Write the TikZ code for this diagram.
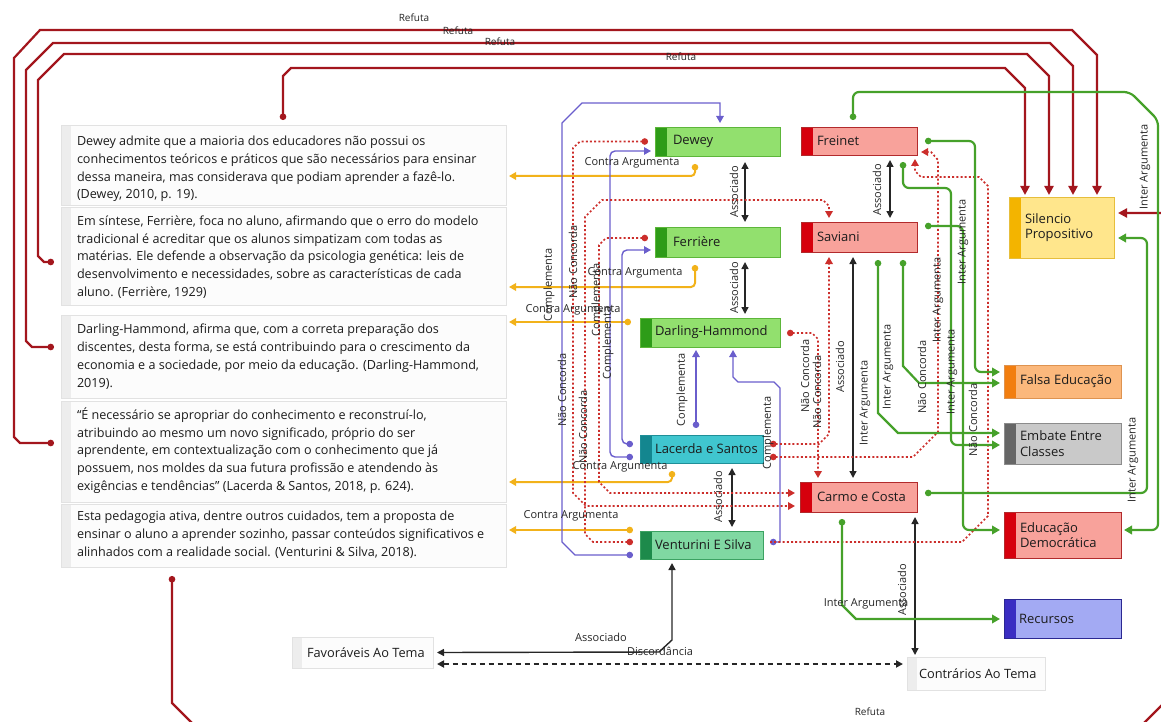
\documentclass[tikz,border=0pt]{standalone}
\usepackage{fontspec}
\setmainfont{Open Sans}
\usetikzlibrary{arrows.meta,calc}
\pgfdeclarelayer{bg}
\pgfsetlayers{bg,main}

% connector colours
\definecolor{refred}{HTML}{A3161D}
\definecolor{lgreen}{HTML}{46A12A}
\definecolor{lblue}{HTML}{6A5ECC}
\definecolor{lorange}{HTML}{F2B21A}
\definecolor{ldot}{HTML}{CC2E2B}
\definecolor{lblack}{HTML}{262626}
\definecolor{txt}{HTML}{1C1C1C}
% box colours
\definecolor{gfill}{HTML}{92E06E}
\definecolor{gstripe}{HTML}{2E9C18}
\definecolor{gdraw}{HTML}{5DB63A}
\definecolor{cfill}{HTML}{40C6CF}
\definecolor{cstripe}{HTML}{13868F}
\definecolor{cdraw}{HTML}{1F8F98}
\definecolor{mfill}{HTML}{80D8A2}
\definecolor{mstripe}{HTML}{1D8A4B}
\definecolor{mdraw}{HTML}{3CA262}
\definecolor{rfill}{HTML}{F8A29B}
\definecolor{rstripe}{HTML}{D6000D}
\definecolor{rdraw}{HTML}{B22A2C}
\definecolor{yfill}{HTML}{FFE68C}
\definecolor{ystripe}{HTML}{F3B400}
\definecolor{ydraw}{HTML}{E6BE3C}
\definecolor{ofill}{HTML}{FBB87C}
\definecolor{ostripe}{HTML}{F27E0F}
\definecolor{odraw}{HTML}{DE9350}
\definecolor{sfill}{HTML}{C9C9C9}
\definecolor{sstripe}{HTML}{666666}
\definecolor{sdraw}{HTML}{8C8C8C}
\definecolor{bfill}{HTML}{A3AAF3}
\definecolor{bstripe}{HTML}{3A2DC2}
\definecolor{bdraw}{HTML}{2B2892}
\definecolor{qfill}{HTML}{FCFCFC}
\definecolor{qstripe}{HTML}{EDEDED}
\definecolor{qdraw}{HTML}{E2E2E2}

\tikzset{
  every node/.style={inner sep=0pt, outer sep=0pt},
  stripe/.style 2 args={path picture={\fill[#1] (path picture bounding box.north west) rectangle ([xshift=#2]path picture bounding box.south west);}},
  cbox/.style n args={3}{rectangle, line width=0.8pt, fill=#1, draw=#3, stripe={#2}{12pt}},
  greenbox/.style={cbox={gfill}{gstripe}{gdraw}},
  cyanbox/.style={cbox={cfill}{cstripe}{cdraw}},
  mintbox/.style={cbox={mfill}{mstripe}{mdraw}},
  redbox/.style={cbox={rfill}{rstripe}{rdraw}},
  yellowbox/.style={cbox={yfill}{ystripe}{ydraw}},
  orangebox/.style={cbox={ofill}{ostripe}{odraw}},
  greybox/.style={cbox={sfill}{sstripe}{sdraw}},
  bluebox/.style={cbox={bfill}{bstripe}{bdraw}},
  qbox/.style={rectangle, line width=0.6pt, fill=qfill, draw=qdraw, stripe={qstripe}{10pt}},
  boxtxt/.style={font=\fontsize{13}{15.5}\selectfont, align=left, text=txt},
  qtxt/.style={font=\fontsize{12.6}{17.8}\selectfont, align=left, text=txt},
  themetxt/.style={font=\fontsize{12.8}{15}\selectfont, text=txt},
  lbl/.style={font=\fontsize{11}{12}\selectfont, text=lblack},
  lblsm/.style={font=\fontsize{10}{11}\selectfont, text=lblack},
  lblv/.style={lbl, rotate=90},
  rref/.style={draw=refred, line width=2.2pt, arrows={Circle[length=6.5pt]-Triangle[length=9pt,width=9pt]}},
  grn/.style={draw=lgreen, line width=2.2pt, arrows={Circle[length=6.5pt]-Triangle[length=8pt,width=8.5pt]}},
  blu/.style={draw=lblue, line width=1.4pt, arrows={Circle[length=6.5pt]-Triangle[length=7pt,width=7.5pt]}},
  orng/.style={draw=lorange, line width=2pt, rounded corners=4pt, arrows={Circle[length=6.5pt]-Triangle[length=7pt,width=7.5pt]}},
  rdt/.style={draw=ldot, line width=1.7pt, dash pattern=on 2pt off 2.2pt, arrows={Circle[length=6.5pt]-Triangle[length=7pt,width=7.5pt]}},
  rdtn/.style={rdt, arrows={-Triangle[length=7pt,width=7.5pt]}},
  blk/.style={draw=lblack, line width=1.4pt, arrows={Triangle[length=7pt,width=7pt]-Triangle[length=7pt,width=7pt]}},
  blkd/.style={blk, line width=1.8pt, dash pattern=on 5pt off 4pt},
}

% concept box: name, x, y, width, height, style, text offset, text
\newcommand{\makeconceptbox}[8]{%
  \node[#6, minimum width=#4pt, minimum height=#5pt, anchor=north west] (#1) at (#2,#3) {};
  \node[boxtxt, anchor=west] (#1-t) at ([xshift=#7pt]#1.west) {#8};%
}
% quotation box: name, y, height, vertical text shift, text
\newcommand{\makequote}[5]{%
  \node[qbox, minimum width=445pt, minimum height=#3pt, anchor=north west] (#1) at (61,#2) {};
  \node[qtxt, anchor=west] (#1-t) at ([xshift=16pt,yshift=#4pt]#1.west) {#5};%
}

\begin{document}
\begin{tikzpicture}[x=1pt,y=-1pt]
\useasboundingbox (0,0) rectangle (1161,722);
\clip (0,0) rectangle (1161,722);

% ---------- quotations ----------
\makequote{q1}{125}{80}{-4}{Dewey admite que a maioria dos educadores não possui os\\
conhecimentos teóricos e práticos que são necessários para ensinar\\
dessa maneira, mas considerava que podiam aprender a fazê-lo.\\
(Dewey, 2010, p. 19).}
\makequote{q2}{207}{98}{-1}{Em síntese, Ferrière, foca no aluno, afirmando que o erro do modelo\\
tradicional é acreditar que os alunos simpatizam com todas as\\
matérias. Ele defende a observação da psicologia genética: leis de\\
desenvolvimento e necessidades, sobre as características de cada\\
aluno. (Ferrière, 1929)}
\makequote{q3}{315}{83}{0}{Darling-Hammond, afirma que, com a correta preparação dos\\
discentes, desta forma, se está contribuindo para o crescimento da\\
economia e a sociedade, por meio da educação. (Darling-Hammond,\\
2019).}
\makequote{q4}{401}{101}{1}{“É necessário se apropriar do conhecimento e reconstruí-lo,\\
atribuindo ao mesmo um novo significado, próprio do ser\\
aprendente, em contextualização com o conhecimento que já\\
possuem, nos moldes da sua futura profissão e atendendo às\\
exigências e tendências” (Lacerda \& Santos, 2018, p. 624).}
\makequote{q5}{504}{63}{1}{Esta pedagogia ativa, dentre outros cuidados, tem a proposta de\\
ensinar o aluno a aprender sozinho, passar conteúdos significativos e\\
alinhados com a realidade social. (Venturini \& Silva, 2018).}

% ---------- authors and themes ----------
\makeconceptbox{dewey}{655}{127}{125}{29}{greenbox}{18}{Dewey}
\makeconceptbox{ferriere}{655}{227}{125}{30}{greenbox}{18}{Ferrière}
\makeconceptbox{darling}{640}{318}{140}{29}{greenbox}{15}{Darling-Hammond}
\makeconceptbox{lacerda}{640}{435}{123}{28}{cyanbox}{15}{Lacerda e Santos}
\makeconceptbox{venturini}{640}{531}{123}{28}{mintbox}{15}{Venturini E Silva}
\makeconceptbox{freinet}{801}{127}{116}{28}{redbox}{16}{Freinet}
\makeconceptbox{saviani}{801}{222}{116}{30}{redbox}{16}{Saviani}
\makeconceptbox{carmo}{800}{482}{117}{30}{redbox}{17}{Carmo e Costa}
\makeconceptbox{silencio}{1009}{197}{105}{61}{yellowbox}{16}{Silencio\\Propositivo}
\makeconceptbox{falsa}{1004}{365}{117}{33}{orangebox}{16}{Falsa Educação}
\makeconceptbox{embate}{1004}{423}{117}{41}{greybox}{16}{Embate Entre\\Classes}
\makeconceptbox{edudem}{1004}{512}{117}{46}{redbox}{16}{Educação\\Democrática}
\makeconceptbox{recursos}{1004}{599}{117}{39}{bluebox}{15}{Recursos}

\node[qbox, minimum width=141pt, minimum height=31pt, anchor=north west] (favor) at (292,637) {};
\node[themetxt, anchor=west] (favor-t) at ([xshift=15pt]favor.west) {Favoráveis Ao Tema};
\node[qbox, minimum width=138pt, minimum height=33pt, anchor=north west] (contra) at (907,657) {};
\node[themetxt, anchor=west] (contra-t) at ([xshift=12pt]contra.west) {Contrários Ao Tema};

\begin{pgfonlayer}{bg}
% ---------- Refuta ----------
\draw[rref] ($(q4.north west)+(-7,42)$) -- (20,443) -- (14,437) -- (14,58) -- (40,30) -- (1072,30) -- (1097,55) -- ($(silencio.north west)+(88,-2)$);
\draw[rref] ($(q3.north west)+(-7,32)$) -- (32,347) -- (26,341) -- (26,70) -- (53,43) -- (1050,43) -- (1073,66) -- ($(silencio.north west)+(64,-2)$);
\draw[rref] ($(q2.north west)+(-7,55)$) -- (44,262) -- (38,256) -- (38,80) -- (64,54) -- (1027,54) -- (1049,76) -- ($(silencio.north west)+(40,-2)$);
\draw[rref] ($(q1.north west)+(222,-5)$) -- (283,76) -- (291,68) -- (1005,68) -- (1025,88) -- ($(silencio.north west)+(16,-2)$);
\draw[rref] ($(q5.south west)+(111,9)$) -- (172,703) -- (196,727) -- (1140,727) -- (1170,697) -- (1170,213) -- ($(silencio.north east)+(4,16)$);

% ---------- Contra Argumenta ----------
\draw[orng] ($(dewey.south west)+(40,8)$) |- ($(q1.north east)+(3,51)$);
\draw[orng] ($(ferriere.south west)+(40,8)$) |- ($(q2.north east)+(3,80)$);
\draw[orng] ($(darling.north west)+(-9,4)$) -- ($(q3.north east)+(3,7)$);
\draw[orng] ($(lacerda.south west)+(32,8)$) |- ($(q4.north east)+(3,81)$);
\draw[orng] ($(venturini.north west)+(-7,-1)$) -- ($(q5.north east)+(3,26)$);

% ---------- Associado ----------
\draw[blk] ($(dewey.south west)+(90,6)$) -- ($(ferriere.north west)+(90,-5)$);
\draw[blk] ($(ferriere.south west)+(90,5)$) -- ($(darling.north west)+(105,-4)$);
\draw[blk] ($(freinet.south west)+(89,5)$) -- ($(saviani.north west)+(89,-4)$);
\draw[blk] ($(saviani.south west)+(52,5)$) -- ($(carmo.north west)+(53,-4)$);
\draw[blk] ($(lacerda.south west)+(92,5)$) -- ($(venturini.north west)+(92,-4)$);
\draw[blk] ($(carmo.south west)+(115,5)$) -- ($(contra.north west)+(8,-2)$);
\draw[blk] ($(venturini.south west)+(32,4)$) -- (672,640) -- (659,652) -- ($(favor.east)+(4,0)$);
\draw[blkd] ($(favor.south east)+(4,-4)$) -- ($(contra.north west)+(-4,7)$);

% ---------- Complementa ----------
\draw[blu] ($(venturini.south west)+(-7,-4)$) -- (575,555) -- (562,542) -- (562,123) -- (582,103) -- (720,103) -- ($(dewey.north west)+(65,-4)$);
\draw[blu, rounded corners=5pt] ($(lacerda.south west)+(-7,-6)$) -- (610,457) -- (610,151) -- ($(dewey.south west)+(-4,-5)$);
\draw[blu, rounded corners=5pt] ($(lacerda.north west)+(-7,9)$) -- (622,444) -- (622,250) -- ($(ferriere.south west)+(-4,-7)$);
\draw[blu] ($(lacerda.north west)+(56,-7)$) -- ($(darling.south west)+(56,3)$);
\draw[blu] ($(venturini.north east)+(7,11)$) -- (780,542) -- (780,388) -- (774,382) -- (738,382) -- (733,377) -- ($(darling.south west)+(93,3)$);

% ---------- Não Concorda ----------
\draw[rdt] ($(dewey.west)+(-7,0)$) -- (580,141.5) -- (573,148) -- (573,493) -- (586,506) -- ($(carmo.south west)+(-5,-6)$);
\draw[rdt] ($(ferriere.north west)+(-7,11)$) -- (606,238) -- (599,245) -- (599,482) -- (610,493) -- ($(carmo.north west)+(-5,11)$);
\draw[rdt] ($(venturini.north west)+(-7,11)$) -- (593,542) -- (585,534) -- (585,217) -- (602,200) -- (823,200) -- (829,206) -- ($(saviani.north west)+(28,-4)$);
\draw[rdt] ($(darling.north east)+(7,15)$) -- (812,333) -- (818,339) -- ($(carmo.north west)+(18,-4)$);
\draw[rdt] ($(lacerda.north east)+(7,9)$) -- (819,444) -- (829,434) -- ($(saviani.south west)+(28,5)$);
\draw[rdt] ($(lacerda.south east)+(7,-6)$) -- (913,457) -- (938,432) -- (938,160) -- (931,152) -- ($(freinet.north east)+(4,25)$);
\draw[rdtn] ($(venturini.north east)+(7,11)$) -- (962,542) -- (988,516) -- (988,186) -- (979,177) -- (921,177) -- (915,171) -- ($(freinet.south east)+(-2,4)$);

% ---------- Inter Argumenta ----------
\draw[grn, rounded corners=6pt] ($(freinet.north west)+(52,-7)$) -- (853,92) -- (1130,92) -- (1158,120) -- (1158,530) -- ($(edudem.north east)+(3,18)$);
\draw[grn, rounded corners=6pt] ($(freinet.east)+(8,0)$) -- (975,141) -- (975,372) -- ($(falsa.north west)+(-4,7)$);
\draw[grn, rounded corners=6pt] ($(freinet.south west)+(102,7)$) -- (903,188) -- (951,188) -- (951,445) -- ($(embate.north west)+(-4,22)$);
\draw[grn, rounded corners=6pt] ($(saviani.north east)+(8,4)$) -- (963,226) -- (963,530) -- ($(edudem.north west)+(-4,18)$);
\draw[grn] ($(saviani.south west)+(77,8)$) -- (878,413) -- (898,433) -- ($(embate.north west)+(-4,10)$);
\draw[grn] ($(saviani.south west)+(102,8)$) -- (903,366) -- (919,383) -- ($(falsa.north west)+(-4,18)$);
\draw[grn, rounded corners=6pt] ($(carmo.north east)+(8,11)$) -- (1147,493) -- (1147,238) -- ($(silencio.north east)+(4,41)$);
\draw[grn] ($(carmo.south west)+(42,7)$) -- (842,605) -- (856,619) -- ($(recursos.north west)+(-4,20)$);
\end{pgfonlayer}

% ---------- labels ----------
\node[lblsm] (rf-a) at (414,18) {Refuta};
\node[lblsm] (rf-b) at (458,31) {Refuta};
\node[lblsm] (rf-c) at (500,42) {Refuta};
\node[lblsm] (rf-d) at (681,57) {Refuta};
\node[lblsm] (rf-e) at (870,712) {Refuta};

\node[lbl] (ca-1) at (632,163) {Contra Argumenta};
\node[lbl] (ca-2) at (635,273) {Contra Argumenta};
\node[lbl] (ca-3) at (573,310) {Contra Argumenta};
\node[lbl] (ca-4) at (620,467) {Contra Argumenta};
\node[lbl] (ca-5) at (571,516) {Contra Argumenta};

\node[lbl] (as-h) at (601,637) {Associado};
\node[lbl] (di-h) at (660,651) {Discordância};
\node[lbl] (ia-h) at (866,604) {Inter Argumenta};

\node[lblv] (as-1) at (734,192) {Associado};
\node[lblv] (as-2) at (734,288) {Associado};
\node[lblv] (as-3) at (877,190) {Associado};
\node[lblv] (as-4) at (840,367) {Associado};
\node[lblv] (as-5) at (718,497) {Associado};
\node[lblv] (as-6) at (902,590) {Associado};

\node[lblv] (nc-1) at (573,262) {Não Concorda};
\node[lblv] (nc-2) at (562,390) {Não Concorda};
\node[lblv] (nc-3) at (583,427) {Não Concorda};
\node[lblv] (nc-4) at (805,376) {Não Concorda};
\node[lblv] (nc-5) at (817,392) {Não Concorda};
\node[lblv] (nc-6) at (922,377) {Não Concorda};
\node[lblv] (nc-7) at (973,420) {Não Concorda};

\node[lblv] (cp-1) at (549,285) {Complementa};
\node[lblv] (cp-2) at (597,300) {Complementa};
\node[lblv] (cp-3) at (608,343) {Complementa};
\node[lblv] (cp-4) at (682,390) {Complementa};
\node[lblv] (cp-5) at (768,433) {Complementa};

\node[lblv] (ia-1) at (1145,167) {Inter Argumenta};
\node[lblv] (ia-2) at (963,242) {Inter Argumenta};
\node[lblv] (ia-3) at (938,300) {Inter Argumenta};
\node[lblv] (ia-4) at (952,372) {Inter Argumenta};
\node[lblv] (ia-5) at (888,367) {Inter Argumenta};
\node[lblv] (ia-6) at (865,403) {Inter Argumenta};
\node[lblv] (ia-7) at (1133,460) {Inter Argumenta};
\end{tikzpicture}
\end{document}
